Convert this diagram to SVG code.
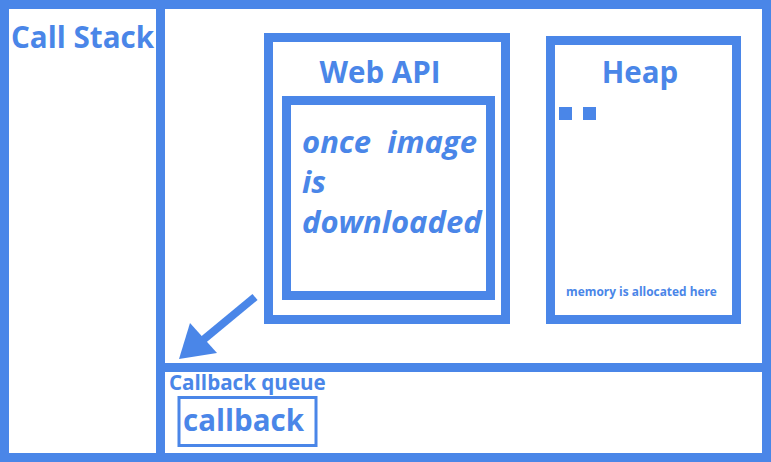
<svg xmlns="http://www.w3.org/2000/svg" width="771" height="462" viewBox="0 0 771 462">
<style>
.box{fill:none;stroke:#4a86e8;stroke-width:9}
.t{font-family:"Open Sans","Liberation Sans",sans-serif;font-weight:bold;fill:#4a86e8}
.it{font-style:italic}
</style>
<rect width="771" height="462" fill="#ffffff"/>
<g id="frame">
<rect class="box" x="4.5" y="4.5" width="762" height="453"/>
<line class="box" x1="160.5" y1="0" x2="160.5" y2="462"/>
<line class="box" x1="160" y1="367.5" x2="771" y2="367.5"/>
</g>
<g id="call-stack">
<text class="t" x="11" y="48" font-size="29.6">Call Stack</text>
</g>
<g id="web-api">
<rect class="box" x="268.5" y="37.5" width="237" height="282"/>
<text class="t" x="380" y="83" font-size="29.5" text-anchor="middle">Web API</text>
</g>
<g id="download-box">
<rect class="box" x="286.5" y="100.5" width="204" height="195"/>
<text class="t it" x="302" y="153" font-size="31" xml:space="preserve">once  image</text>
<text class="t it" x="302" y="193" font-size="31">is</text>
<text class="t it" x="302" y="233" font-size="31">downloaded</text>
</g>
<g id="heap">
<rect class="box" x="550.5" y="40.5" width="186" height="279"/>
<text class="t" x="640" y="83" font-size="29.5" text-anchor="middle">Heap</text>
<rect x="559" y="107" width="13" height="13" fill="#4a86e8"/>
<rect x="583" y="107" width="13" height="13" fill="#4a86e8"/>
<text class="t" x="641.5" y="296" font-size="11.9" text-anchor="middle">memory is allocated here</text>
</g>
<g id="callback-queue">
<text class="t" x="169" y="390" font-size="20.6">Callback queue</text>
</g>
<g id="callback">
<rect x="179" y="397.5" width="137" height="48" fill="none" stroke="#4a86e8" stroke-width="3"/>
<text class="t" x="183" y="431" font-size="29.5">callback</text>
</g>
<g id="connectors">
<line x1="255" y1="297" x2="203" y2="340" stroke="#4a86e8" stroke-width="8"/>
<polygon points="179,359 190,323 217,353" fill="#4a86e8"/>
</g>
</svg>
